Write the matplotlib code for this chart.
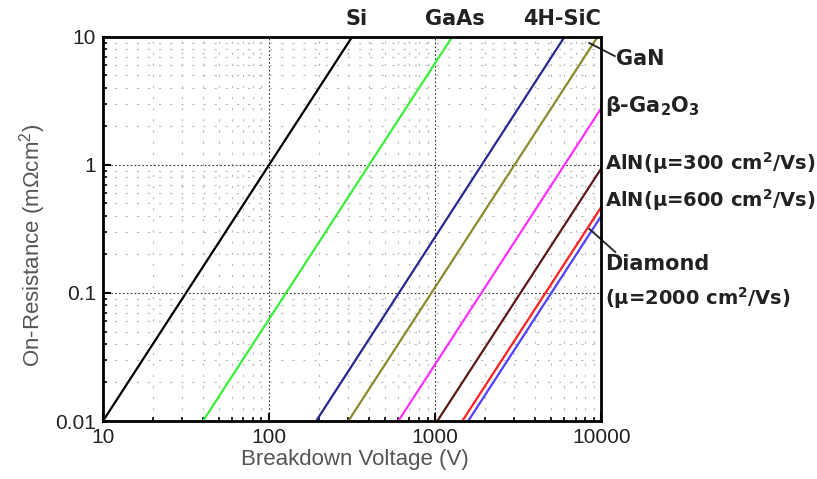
import matplotlib
matplotlib.use("Agg")
import matplotlib.pyplot as plt

plt.rcParams['font.family'] = ['Liberation Sans', 'DejaVu Sans']

# Material limit lines, two end points each
materials = ['Si', 'GaAs', '4H-SiC', 'GaN', 'b-Ga2O3', 'AlN300', 'AlN600', 'Diamond']
v_start = [10, 40, 192, 300, 600, 1030, 1455, 1580]
v_end = [316, 1265, 6000, 9490, 10000, 10000, 10000, 10000]
r_start = [0.01, 0.01, 0.01, 0.01, 0.01, 0.01, 0.01, 0.01]
r_end = [10, 10, 10, 10, 2.78, 0.94, 0.47, 0.40]
colors = ['#000000', '#3cee3c', '#28288f', '#8a8a2e', '#ff30ff', '#5a1818', '#ff2020', '#5040ff']

x_ticks = [10, 100, 1000, 10000]
x_labels = ['10', '100', '1000', '10000']
y_ticks = [0.01, 0.1, 1, 10]
y_labels = ['0.01', '0.1', '1', '10']

fig = plt.figure(figsize=(8.17, 4.79), dpi=100)
ax = fig.add_axes([0.126, 0.121, 0.61, 0.802])

for i in range(len(materials)):
    ax.plot([v_start[i], v_end[i]], [r_start[i], r_end[i]], color=colors[i], lw=1.6)

ax.set_xscale('log')
ax.set_yscale('log')
ax.set_xlim(10, 10000)
ax.set_ylim(0.01, 10)
ax.set_xticks(x_ticks)
ax.set_xticklabels(x_labels)
ax.set_yticks(y_ticks)
ax.set_yticklabels(y_labels)

ax.grid(which='major', color='#333333', linestyle=(0, (1.5, 2)), lw=0.8)
ax.grid(which='minor', color='#b8b8b8', linestyle=(0, (2, 8)), lw=0.8)

ax.tick_params(which='major', direction='in', length=6, width=1.5, labelsize=15,
               labelcolor='#222222', pad=5)
ax.tick_params(which='minor', direction='in', length=3, width=1.2)
for s in ax.spines.values():
    s.set_linewidth(2)

ax.set_xlabel('Breakdown Voltage (V)', fontsize=16, color='#555555')
ax.set_ylabel(r'On-Resistance (mΩcm$\mathregular{^2}$)', fontsize=16, color='#555555')
ax.xaxis.set_label_coords(0.506, -0.072)
ax.yaxis.set_label_coords(-0.11, 0.456)

bold = dict(fontweight='bold', color='#222222', family='DejaVu Sans',
            transform=ax.transAxes, va='baseline')
ax.text(0.508, 1.031, 'Si', ha='center', fontsize=15, **bold)
ax.text(0.707, 1.031, 'GaAs', ha='center', fontsize=15, **bold)
ax.text(0.921, 1.031, '4H-SiC', ha='center', fontsize=15, **bold)

ax.text(1.030, 0.927, 'GaN', ha='left', fontsize=15, **bold)
ax.text(1.008, 0.805, r'β-Ga$\mathregular{_2}$O$\mathregular{_3}$', ha='left', fontsize=15, **bold)
ax.text(1.008, 0.654, r'AlN(μ=300 cm$\mathregular{^2}$/Vs)', ha='left', fontsize=14, **bold)
ax.text(1.008, 0.557, r'AlN(μ=600 cm$\mathregular{^2}$/Vs)', ha='left', fontsize=14, **bold)
ax.text(1.008, 0.393, 'Diamond', ha='left', fontsize=15, **bold)
ax.text(1.008, 0.302, r'(μ=2000 cm$\mathregular{^2}$/Vs)', ha='left', fontsize=14, **bold)

# leader lines
ax.plot([0.976, 1.027], [0.984, 0.95], color='#222222', lw=1.3, transform=ax.transAxes, clip_on=False)
ax.plot([0.976, 1.028], [0.50, 0.44], color='#222222', lw=1.3, transform=ax.transAxes, clip_on=False)

fig.savefig('out.png', dpi=100)
